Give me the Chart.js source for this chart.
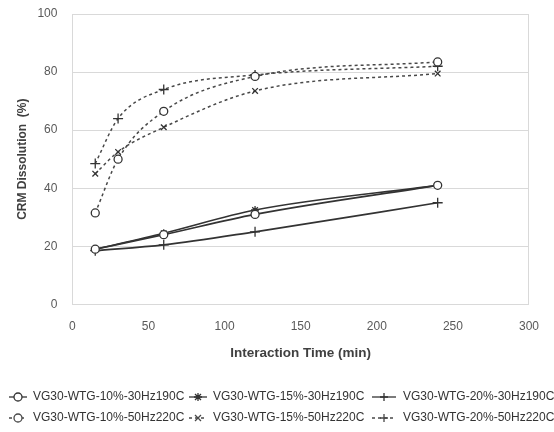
<!DOCTYPE html>
<html>
<head>
<meta charset="utf-8">
<script src="https://cdn.jsdelivr.net/npm/chart.js@4/dist/chart.umd.min.js"></script>
<style>
  html, body { margin: 0; padding: 0; background: #fff; }
  #wrap { width: 554px; height: 432px; }
</style>
</head>
<body>
<div id="wrap"><canvas id="myChart"></canvas></div>
<script>
// times (min)
var times30 = [15, 60, 120, 240];
var times50 = [15, 30, 60, 120, 240];

// CRM dissolution (%)
var wtg10_30Hz = [19, 24, 31, 41];
var wtg15_30Hz = [19, 24.5, 32.5, 41];
var wtg20_30Hz = [18.5, 20.5, 25, 35];
var wtg10_50Hz = [31.5, 50, 66.5, 78.5, 83.5];
var wtg15_50Hz = [45, 52.5, 61, 73.5, 79.5];
var wtg20_50Hz = [48.5, 64, 74, 79, 82];

var seriesLabels = [
    'VG30-WTG-10%-30Hz190C',
    'VG30-WTG-15%-30Hz190C',
    'VG30-WTG-20%-30Hz190C',
    'VG30-WTG-10%-50Hz220C',
    'VG30-WTG-15%-50Hz220C',
    'VG30-WTG-20%-50Hz220C'
];

var xTicks = [0, 50, 100, 150, 200, 250, 300];
var yTicks = [0, 20, 40, 60, 80, 100];

//把x和y合成点
function toPoints(xs, ys) {
    var pts = [];
    for (var i = 0; i < xs.length; i++) {
        pts.push({ x: xs[i], y: ys[i] });
    }
    return pts;
}

var lineDark = '#333333';
var dashGrey = '#484848';
var fontFam = '"Liberation Sans", Arial, sans-serif';

function makeSet(label, xs, ys, style, dashed) {
    return {
        label: label,
        data: toPoints(xs, ys),
        borderColor: dashed ? dashGrey : lineDark,
        borderWidth: dashed ? 1.5 : 1.7,
        borderDash: dashed ? [3, 3] : [],
        cubicInterpolationMode: 'monotone',
        pointStyle: style,
        pointRadius: style === 'cross' ? 5 : 4,
        pointBorderWidth: 1.3,
        pointBorderColor: lineDark,
        pointBackgroundColor: style === 'circle' ? '#fff' : lineDark,
        fill: false
    };
}

var datasets = [
    makeSet(seriesLabels[0], times30, wtg10_30Hz, 'circle', false),
    makeSet(seriesLabels[1], times30, wtg15_30Hz, 'star', false),
    makeSet(seriesLabels[2], times30, wtg20_30Hz, 'cross', false),
    makeSet(seriesLabels[3], times50, wtg10_50Hz, 'circle', true),
    makeSet(seriesLabels[4], times50, wtg15_50Hz, 'crossRot', true),
    makeSet(seriesLabels[5], times50, wtg20_50Hz, 'cross', true)
];

// 画图例里的小符号
function drawMarker(ctx, style, x, y, r) {
    ctx.beginPath();
    if (style === 'circle') {
        ctx.arc(x, y, r, 0, Math.PI * 2);
        ctx.fillStyle = '#fff';
        ctx.fill();
        ctx.stroke();
        return;
    }
    if (style === 'cross' || style === 'star') {
        ctx.moveTo(x, y - r); ctx.lineTo(x, y + r);
        ctx.moveTo(x - r, y); ctx.lineTo(x + r, y);
    }
    if (style === 'crossRot' || style === 'star') {
        var d = r * 0.75;
        ctx.moveTo(x - d, y - d); ctx.lineTo(x + d, y + d);
        ctx.moveTo(x + d, y - d); ctx.lineTo(x - d, y + d);
    }
    ctx.stroke();
}

// 自己画的图例，三列两行
var gridLegend = {
    id: 'gridLegend',
    afterDraw: function (chart) {
        var ctx = chart.ctx;
        var textX = [33, 213, 403];
        var rowY = [397, 418];
        ctx.save();
        ctx.font = '12px ' + fontFam;
        ctx.textBaseline = 'middle';
        ctx.textAlign = 'left';
        chart.data.datasets.forEach(function (ds, i) {
            var tx = textX[i % 3];
            var y = rowY[Math.floor(i / 3)];
            var cx = tx - 15;
            var half = 9;
            if (i % 3 === 2) { cx = tx - 19; half = 12; }
            ctx.strokeStyle = ds.borderColor;
            ctx.lineWidth = 1.3;
            ctx.setLineDash(ds.borderDash);
            ctx.beginPath();
            ctx.moveTo(cx - half, y);
            ctx.lineTo(cx + half, y);
            ctx.stroke();
            ctx.setLineDash([]);
            drawMarker(ctx, ds.pointStyle, cx, y, 4);
            ctx.fillStyle = '#333';
            ctx.fillText(ds.label, tx, y);
        });
        ctx.restore();
    }
};

var ctx = document.getElementById('myChart');
var myChart = new Chart(ctx, {
    type: 'line',
    data: { datasets: datasets },
    plugins: [gridLegend],
    options: {
        responsive: true,
        maintainAspectRatio: false,
        animation: false,
        layout: {
            autoPadding: false,
            padding: { left: 15, right: 19, top: 14, bottom: 71 }
        },
        plugins: {
            legend: { display: false },
            tooltip: { enabled: false }
        },
        scales: {
            x: {
                type: 'linear',
                min: 0,
                max: 300,
                afterBuildTicks: function (axis) {
                    axis.ticks = xTicks.map(function (v) { return { value: v }; });
                },
                grid: {
                    drawTicks: false,
                    color: function (c) {
                        return c.tick && c.tick.value === 300 ? '#d9d9d9' : 'rgba(0,0,0,0)';
                    }
                },
                border: { display: false },
                ticks: {
                    padding: 15,
                    color: '#595959',
                    font: { family: fontFam, size: 12 }
                },
                title: {
                    display: true,
                    text: 'Interaction Time (min)',
                    color: '#404040',
                    padding: { top: -4, bottom: 0 },
                    font: { family: fontFam, size: 13.5, weight: 'bold' }
                }
            },
            y: {
                min: 0,
                max: 100,
                afterBuildTicks: function (axis) {
                    axis.ticks = yTicks.map(function (v) { return { value: v }; });
                },
                // 顶部不要多留空
                afterFit: function (axis) {
                    axis.paddingTop = 0;
                },
                grid: {
                    drawTicks: false,
                    color: '#d9d9d9'
                },
                border: { display: true, color: '#d9d9d9' },
                ticks: {
                    padding: 15,
                    color: '#595959',
                    font: { family: fontFam, size: 12 }
                },
                title: {
                    display: true,
                    text: 'CRM Dissolution  (%)',
                    color: '#404040',
                    padding: { top: 0, bottom: -7 },
                    font: { family: fontFam, size: 12, weight: 'bold' }
                }
            }
        }
    }
});
</script>
</body>
</html>
